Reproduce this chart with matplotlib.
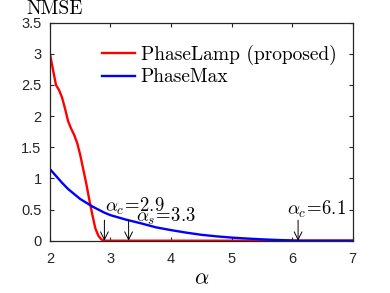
import matplotlib
matplotlib.use('Agg')
import matplotlib.pyplot as plt

plt.rcParams['mathtext.fontset'] = 'cm'
plt.rcParams['font.family'] = ['Liberation Sans', 'DejaVu Sans']

# PhaseLamp (proposed)
alpha_lamp = [2.0, 2.05, 2.1, 2.15, 2.2, 2.25, 2.3, 2.35, 2.4, 2.45, 2.5, 2.55, 2.6, 2.65,
              2.7, 2.75, 2.8, 2.85, 2.9, 3.0, 4.0, 5.0, 6.0, 7.0]
nmse_lamp = [3.0, 2.75, 2.5, 2.42, 2.3, 2.12, 1.92, 1.8, 1.7, 1.57, 1.38, 1.15, 0.92, 0.66,
             0.42, 0.2, 0.08, 0.02, 0.0, 0.0, 0.0, 0.0, 0.0, 0.0]

# PhaseMax
alpha_max = [2.0, 2.1, 2.2, 2.3, 2.4, 2.5, 2.6, 2.7, 2.8, 2.9, 3.0, 3.25, 3.5, 3.75, 4.0,
             4.25, 4.5, 4.75, 5.0, 5.25, 5.5, 5.75, 6.0, 6.1, 6.5, 7.0]
nmse_max = [1.15, 1.04, 0.93, 0.83, 0.75, 0.67, 0.61, 0.55, 0.50, 0.45, 0.41, 0.34, 0.28,
            0.215, 0.17, 0.13, 0.095, 0.07, 0.05, 0.035, 0.022, 0.012, 0.004, 0.0, 0.0, 0.0]

# annotations: (label, x pointed at, text x, text y)
notes = [(r'$\alpha_c\!=\!2.9$', 2.9, 2.91, 0.47),
         (r'$\alpha_s\!=\!3.3$', 3.3, 3.43, 0.30),
         (r'$\alpha_c\!=\!6.1$', 6.1, 5.92, 0.41)]

fig = plt.figure(figsize=(3.9, 2.93), dpi=100)
ax = fig.add_axes([0.128, 0.1785, 0.776, 0.744])

ax.plot(alpha_lamp, nmse_lamp, color='red', lw=1.7, label='PhaseLamp (proposed)')
ax.plot(alpha_max, nmse_max, color='blue', lw=1.7, label='PhaseMax')

for lab, xa, xt, yt in notes:
    ax.annotate('', xy=(xa, 0), xytext=(xa, 0.33),
                arrowprops=dict(arrowstyle='->', color='black', lw=0.7,
                                mutation_scale=14, shrinkA=0, shrinkB=0))
    ax.text(xt, yt, lab, fontsize=13.5, ha='left', va='baseline')

ax.set_xlim(2, 7)
ax.set_ylim(0, 3.5)
ax.set_xticks([2, 3, 4, 5, 6, 7])
ax.set_yticks([0, 0.5, 1, 1.5, 2, 2.5, 3, 3.5])
ax.set_yticklabels(['0', '0.5', '1', '1.5', '2', '2.5', '3', '3.5'])
ax.tick_params(direction='in', top=True, right=True, length=3, width=0.8,
               colors='#262626', labelsize=10.5)
ax.tick_params(axis='x', pad=8)
ax.tick_params(axis='y', pad=6)
for sp in ax.spines.values():
    sp.set_color('#262626')
    sp.set_linewidth(0.9)

ax.set_xlabel(r'$\alpha$', fontsize=16, labelpad=2)
fig.text(0.067, 0.953, 'NMSE', fontfamily='cmr10', fontsize=14, ha='left', va='baseline')

leg = ax.legend(loc='upper left', frameon=False, prop={'family': 'cmr10', 'size': 14},
                handlelength=1.7, handletextpad=0.3, labelspacing=0.2,
                borderaxespad=0, borderpad=0, bbox_to_anchor=(0.171, 0.90))

fig.savefig('out.png', dpi=100)
